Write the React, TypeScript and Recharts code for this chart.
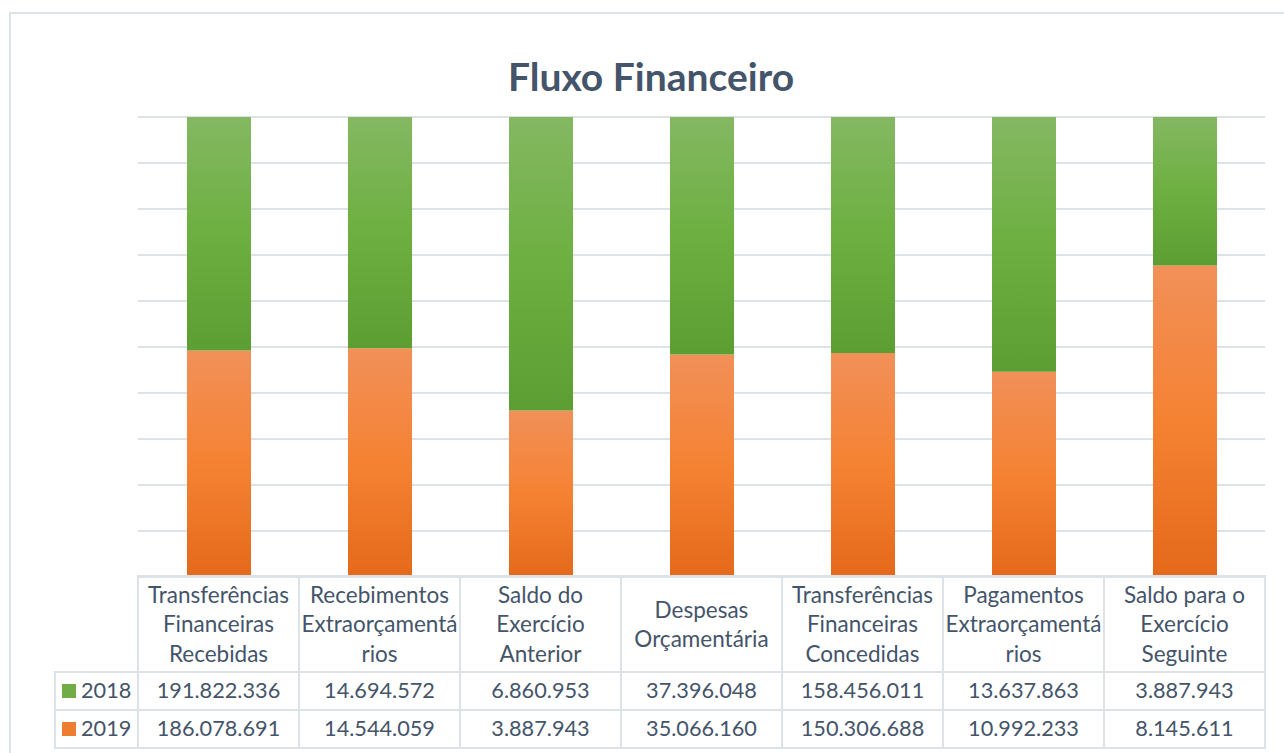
import React from "react";
import { BarChart, Bar, XAxis, YAxis, CartesianGrid } from "recharts";

const categories = [
  "Transferências Financeiras Recebidas",
  "Recebimentos Extraorçamentários",
  "Saldo do Exercício Anterior",
  "Despesas Orçamentária",
  "Transferências Financeiras Concedidas",
  "Pagamentos Extraorçamentários",
  "Saldo para o Exercício Seguinte",
];

const headerLines = [
  ["Transferências", "Financeiras", "Recebidas"],
  ["Recebimentos", "Extraorçamentá", "rios"],
  ["Saldo do", "Exercício", "Anterior"],
  ["Despesas", "Orçamentária"],
  ["Transferências", "Financeiras", "Concedidas"],
  ["Pagamentos", "Extraorçamentá", "rios"],
  ["Saldo para o", "Exercício", "Seguinte"],
];

const values2018 = [191822336, 14694572, 6860953, 37396048, 158456011, 13637863, 3887943];
const values2019 = [186078691, 14544059, 3887943, 35066160, 150306688, 10992233, 8145611];

const yTicks = [0, 0.1, 0.2, 0.3, 0.4, 0.5, 0.6, 0.7, 0.8, 0.9, 1];

const data = categories.map((c, i) => ({
  category: c,
  v2018: values2018[i],
  v2019: values2019[i],
}));

const fmt = (n: number) => String(n).replace(/\B(?=(\d{3})+(?!\d))/g, ".");

const FONT = "Lato, 'Open Sans', sans-serif";
const TEXT = "#44546A";
const LINE = "#DDE2E8";

const W = 1284;
const H = 753;
const M = { top: 117, right: 19, bottom: 176, left: 138 };
const colW = (W - M.left - M.right) / categories.length;
const legendLeft = 55;
const headerTop = 576;
const headerH = 96;
const rowH = 38;

const rows = [
  { label: "2018", values: values2018, color: "#70AD47" },
  { label: "2019", values: values2019, color: "#ED7D31" },
];

export default function App() {
  const cell = (left: number, top: number, width: number, height: number, content: React.ReactNode, key: string, extra: React.CSSProperties = {}) => (
    <div
      key={key}
      style={{
        position: "absolute",
        left,
        top,
        width,
        height,
        boxSizing: "border-box",
        border: `2px solid ${LINE}`,
        marginLeft: -1,
        marginTop: -1,
        display: "flex",
        alignItems: "center",
        justifyContent: "center",
        textAlign: "center",
        color: TEXT,
        fontFamily: FONT,
        fontSize: 21.7,
        lineHeight: "29.5px",
        ...extra,
      }}
    >
      {content}
    </div>
  );

  const cells: React.ReactNode[] = [];
  headerLines.forEach((lines, i) => {
    cells.push(
      cell(
        M.left + i * colW,
        headerTop,
        colW + 2,
        headerH + 2,
        <div>
          {lines.map((l, j) => (
            <div key={j} style={{ whiteSpace: "nowrap" }}>{l}</div>
          ))}
        </div>,
        `h${i}`,
        { fontSize: 22.5 }
      )
    );
  });
  rows.forEach((r, ri) => {
    const top = headerTop + headerH + ri * rowH;
    cells.push(
      cell(
        legendLeft,
        top,
        M.left - legendLeft + 2,
        rowH + 2,
        <div style={{ display: "flex", alignItems: "center", width: "100%", paddingLeft: 6 }}>
          <span style={{ display: "inline-block", width: 14, height: 14, background: r.color, marginRight: 5 }} />
          <span>{r.label}</span>
        </div>,
        `l${ri}`,
        { justifyContent: "flex-start" }
      )
    );
    r.values.forEach((v, i) => {
      cells.push(cell(M.left + i * colW, top, colW + 2, rowH + 2, fmt(v), `c${ri}-${i}`));
    });
  });

  return (
    <div style={{ position: "fixed", left: 0, top: 0, width: W, height: H, overflow: "hidden", background: "#fff" }}>
      <div
        style={{
          position: "absolute",
          left: 9,
          top: 12,
          width: W + 20,
          height: H + 20,
          border: `2px solid ${LINE}`,
          boxSizing: "border-box",
        }}
      />
      <div
        style={{
          position: "absolute",
          left: 0,
          top: 51,
          width: 1302,
          textAlign: "center",
          fontFamily: FONT,
          fontWeight: 700,
          fontSize: 39,
          color: TEXT,
          lineHeight: "50px",
        }}
      >
        Fluxo Financeiro
      </div>
      <div style={{ position: "absolute", left: 0, top: 0 }}>
        <BarChart width={W} height={H} data={data} margin={M} stackOffset="expand" barSize={64}>
          <defs>
            <linearGradient id="gGreen" x1="0" y1="0" x2="0" y2="1">
              <stop offset="0%" stopColor="#84B862" />
              <stop offset="50%" stopColor="#6DAF40" />
              <stop offset="100%" stopColor="#5C9E32" />
            </linearGradient>
            <linearGradient id="gOrange" x1="0" y1="0" x2="0" y2="1">
              <stop offset="0%" stopColor="#F19058" />
              <stop offset="50%" stopColor="#F58233" />
              <stop offset="100%" stopColor="#E5691A" />
            </linearGradient>
          </defs>
          <CartesianGrid vertical={false} stroke={LINE} strokeWidth={2} />
          <XAxis dataKey="category" hide />
          <YAxis hide domain={[0, 1]} ticks={yTicks} />
          <Bar dataKey="v2019" name="2019" stackId="a" fill="url(#gOrange)" isAnimationActive={false} />
          <Bar dataKey="v2018" name="2018" stackId="a" fill="url(#gGreen)" isAnimationActive={false} />
        </BarChart>
      </div>
      {cells}
    </div>
  );
}
